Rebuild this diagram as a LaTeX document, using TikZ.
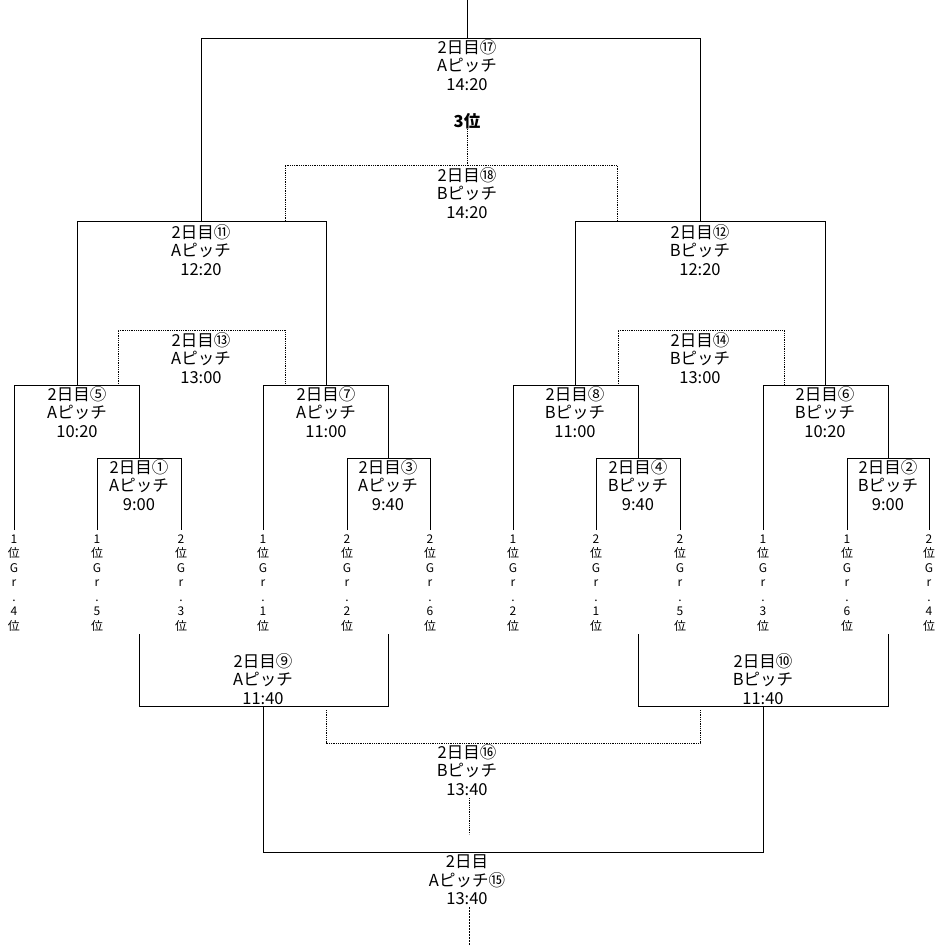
\documentclass[tikz,border=0pt]{standalone}
\usepackage{fontspec}
\setmainfont{Noto Sans CJK JP}
\begin{document}
\begin{tikzpicture}[x=1pt, y=-1pt, line width=0.8pt,
    game/.style={align=center, inner sep=0pt, font=\fontsize{16.5}{18.5}\selectfont},
    team/.style={align=center, inner sep=0pt, font=\fontsize{12}{14.5}\selectfont},
    loser/.style={densely dotted}]
    \useasboundingbox (0,0) rectangle (939,945);
    % ---------------- final (17) and 3rd place (18)
    \draw (467,0) -- (467,38);
    \draw (201,221) |- (700,38) -- (700,221);
    \node[game] (g17) at (467,65) {2日目⑰\\Aピッチ\\14:20};
    \node[game, font=\fontsize{16.5}{18.5}\selectfont\bfseries] (third) at (467,121) {3位};
    \draw[loser] (third.south) -- (467,165);
    \draw[loser] (285,221) |- (617,165) -- (617,221);
    \node[game] (g18) at (467,193) {2日目⑱\\Bピッチ\\14:20};
    % ---------------- semi finals (11, 12) and their losers (13, 14)
    \draw (77,385) |- (326,221) -- (326,385);
    \node[game] (g11) at (201,250) {2日目⑪\\Aピッチ\\12:20};
    \draw[loser] (118,384) |- (285,330) -- (285,384);
    \node[game] (g13) at (201,358) {2日目⑬\\Aピッチ\\13:00};
    \draw (575,385) |- (825,221) -- (825,385);
    \node[game] (g12) at (700,250) {2日目⑫\\Bピッチ\\12:20};
    \draw[loser] (618,384) |- (784,330) -- (784,384);
    \node[game] (g14) at (700,358) {2日目⑭\\Bピッチ\\13:00};
    % ---------------- first rounds
    \draw (14,530) |- (139,385) -- (139,458);
    \node[game] (g5) at (77,412) {2日目⑤\\Aピッチ\\10:20};
    \draw (97,530) |- (181,458) -- (181,530);
    \node[game] (g1) at (139,485) {2日目①\\Aピッチ\\9:00};
    \draw (263,530) |- (388,385) -- (388,458);
    \node[game] (g7) at (326,412) {2日目⑦\\Aピッチ\\11:00};
    \draw (347,530) |- (430,458) -- (430,530);
    \node[game] (g3) at (388,485) {2日目③\\Aピッチ\\9:40};
    \draw (513,530) |- (638,385) -- (638,458);
    \node[game] (g8) at (575,412) {2日目⑧\\Bピッチ\\11:00};
    \draw (596,530) |- (680,458) -- (680,530);
    \node[game] (g4) at (638,485) {2日目④\\Bピッチ\\9:40};
    \draw (763,530) |- (888,385) -- (888,458);
    \node[game] (g6) at (825,412) {2日目⑥\\Bピッチ\\10:20};
    \draw (847,530) |- (929,458) -- (929,530);
    \node[game] (g2) at (888,485) {2日目②\\Bピッチ\\9:00};
    % ---------------- group places
    \foreach \x/\a/\b [count=\i] in {14/1/4, 97/1/5, 181/2/3, 263/1/1, 347/2/2, 430/2/6,
        513/1/2, 596/2/1, 680/2/5, 763/1/3, 847/1/6, 929/2/4}
      \node[team] (t\i) at (\x,583) {\a\\位\\G\\r\\.\\\b\\位};
    % ---------------- lower bracket (9, 10, 15, 16)
    \draw (139,634) |- (388,706) -- (388,634);
    \node[game] (g9) at (263,679) {2日目⑨\\Aピッチ\\11:40};
    \draw (638,634) |- (888,706) -- (888,634);
    \node[game] (g10) at (763,679) {2日目⑩\\Bピッチ\\11:40};
    \draw[loser] (326,710) |- (700,743) -- (700,710);
    \node[game] (g16) at (467,770) {2日目⑯\\Bピッチ\\13:40};
    \draw[loser] (g16.south) ++(2,2) -- (469,834);
    \draw (263,706) |- (763,852) -- (763,706);
    \node[game] (g15) at (467,880) {2日目\\Aピッチ⑮\\13:40};
    \draw[dash pattern=on 2pt off 1pt, line width=0.6pt] (g15.south) ++(2,2) -- (469,945);
\end{tikzpicture}
\end{document}
